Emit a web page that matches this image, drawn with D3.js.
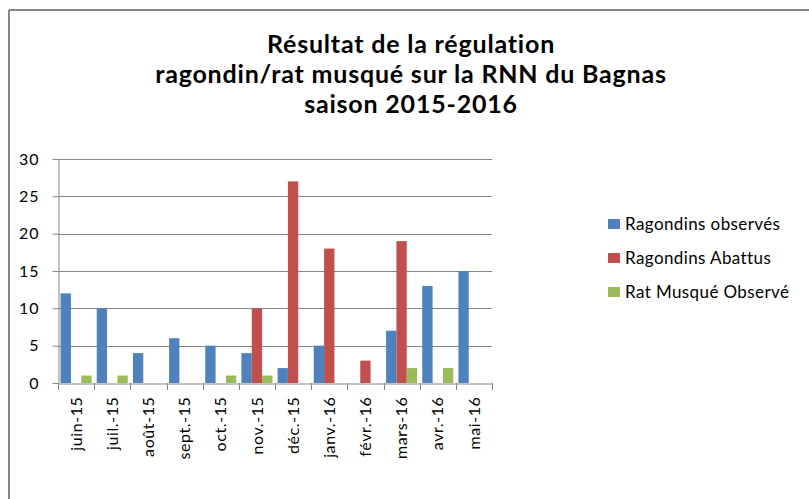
<!DOCTYPE html>
<html>
<head>
<meta charset="utf-8">
<script src="https://cdn.jsdelivr.net/npm/d3@7"></script>
<style>
  body { margin: 0; background: #fff; }
  svg { font-family: Lato, "Open Sans", sans-serif; }
</style>
</head>
<body>
<div id="chart"></div>
<script>
// Data
const months = ["juin-15", "juil.-15", "août-15", "sept.-15", "oct.-15", "nov.-15",
                "déc.-15", "janv.-16", "févr.-16", "mars-16", "avr.-16", "mai-16"];
const ragondinsObserves = [12, 10, 4, 6, 5, 4, 2, 5, 0, 7, 13, 15];
const ragondinsAbattus = [0, 0, 0, 0, 0, 10, 27, 18, 3, 19, 0, 0];
const ratMusqueObserve = [1, 1, 0, 0, 1, 1, 0, 0, 0, 2, 2, 0];
const seriesNames = ["Ragondins observés", "Ragondins Abattus", "Rat Musqué Observé"];
const yTicks = [0, 5, 10, 15, 20, 25, 30];
const titleLines = ["Résultat de la régulation", "ragondin/rat musqué sur la RNN du Bagnas", "saison 2015-2016"];

const colors = ["#4F81BD", "#C0504D", "#9BBB59"];
const seriesValues = [ragondinsObserves, ragondinsAbattus, ratMusqueObserve];

const W = 809, H = 499;
const svg = d3.select("#chart").append("svg")
    .attr("width", W)
    .attr("height", H);

// Chart frame (only top and left visible)
svg.append("line")
    .attr("x1", 9).attr("x2", W).attr("y1", 10).attr("y2", 10)
    .attr("stroke", "#868686").attr("stroke-width", 2);
svg.append("line")
    .attr("x1", 9).attr("x2", 9).attr("y1", 10).attr("y2", H)
    .attr("stroke", "#868686").attr("stroke-width", 2);

// Title
svg.append("g").selectAll("text")
    .data(titleLines)
    .enter().append("text")
    .attr("x", 411)
    .attr("y", (d, i) => 53 + i * 30)
    .attr("text-anchor", "middle")
    .attr("font-size", 25)
    .attr("font-weight", "bold")
    .attr("letter-spacing", 0.8)
    .attr("fill", "#000")
    .text(d => d);

// Plot area
const plot = {left: 58, right: 492, top: 159, bottom: 383};

const x0 = d3.scaleBand()
    .domain(months)
    .range([plot.left, plot.right])
    .paddingInner(0)
    .paddingOuter(0);

const x1 = d3.scaleBand()
    .domain(d3.range(3))
    .range([0, x0.bandwidth()])
    .paddingInner(0)
    .paddingOuter(0.25);

const y = d3.scaleLinear()
    .domain([0, 30])
    .range([plot.bottom, plot.top]);

// Gridlines
svg.append("g").selectAll("line")
    .data(yTicks.filter(d => d > 0))
    .enter().append("line")
    .attr("x1", plot.left).attr("x2", plot.right)
    .attr("y1", d => Math.round(y(d)) + 0.5)
    .attr("y2", d => Math.round(y(d)) + 0.5)
    .attr("stroke", "#868686")
    .attr("stroke-width", 1);

// Bars
const groups = svg.append("g").selectAll("g")
    .data(months)
    .enter().append("g")
    .attr("transform", d => `translate(${x0(d)},0)`);

groups.selectAll("rect")
    .data((m, i) => seriesValues.map((s, k) => ({k: k, v: s[i]})))
    .enter().append("rect")
    .attr("x", d => x1(d.k))
    .attr("width", x1.bandwidth())
    .attr("y", d => y(d.v))
    .attr("height", d => y(0) - y(d.v))
    .attr("fill", d => colors[d.k]);

// Y axis
const yAxis = svg.append("g")
    .attr("transform", `translate(${plot.left + 0.5},0)`)
    .call(d3.axisLeft(y).tickValues(yTicks).tickSize(6).tickSizeOuter(0));
yAxis.select(".domain").attr("stroke", "#868686");
yAxis.selectAll(".tick line").attr("stroke", "#868686");
yAxis.selectAll(".tick text")
    .attr("font-family", "Lato, 'Open Sans', sans-serif")
    .attr("font-size", 16)
    .attr("letter-spacing", 1)
    .attr("fill", "#000")
    .attr("x", -19);

// X axis
const xAxis = svg.append("g")
    .attr("transform", `translate(0,${plot.bottom + 0.5})`)
    .call(d3.axisBottom(x0).tickSize(0).tickSizeOuter(0));
xAxis.select(".domain").attr("stroke", "#868686");
xAxis.selectAll(".tick text")
    .attr("font-family", "Lato, 'Open Sans', sans-serif")
    .attr("font-size", 16)
    .attr("letter-spacing", 0.6)
    .attr("fill", "#000")
    .attr("text-anchor", "end")
    .attr("dy", "0.35em")
    .attr("transform", "translate(0,13) rotate(-90)")
    .attr("x", 0)
    .attr("y", 0);

// Category boundary ticks
svg.append("g").selectAll("line")
    .data(d3.range(months.length + 1))
    .enter().append("line")
    .attr("x1", i => Math.round(plot.left + i * x0.bandwidth()) + 0.5)
    .attr("x2", i => Math.round(plot.left + i * x0.bandwidth()) + 0.5)
    .attr("y1", plot.bottom)
    .attr("y2", plot.bottom + 7)
    .attr("stroke", "#868686");

// Legend
const legend = svg.append("g").selectAll("g")
    .data(seriesNames)
    .enter().append("g")
    .attr("transform", (d, i) => `translate(608,${219 + i * 34})`);

legend.append("rect")
    .attr("width", 12).attr("height", 10)
    .attr("fill", (d, i) => colors[i]);

legend.append("text")
    .attr("x", 17)
    .attr("y", 5)
    .attr("dy", "0.35em")
    .attr("font-size", 17)
    .attr("letter-spacing", 0.4)
    .attr("fill", "#000")
    .text(d => d);
</script>
</body>
</html>
